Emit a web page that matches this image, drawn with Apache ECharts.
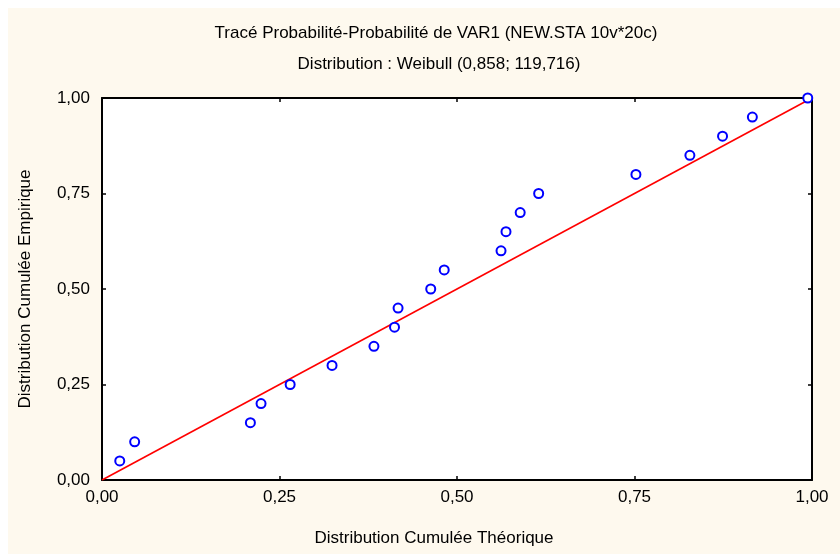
<!DOCTYPE html>
<html>
<head>
<meta charset="utf-8">
<script src="https://cdn.jsdelivr.net/npm/echarts@6/dist/echarts.min.js"></script>
<style>
  html, body { margin: 0; padding: 0; background: #ffffff; }
  #chart { width: 840px; height: 554px; }
</style>
</head>
<body>
<div id="chart"></div>
<script>
// Theoretical cumulative probability (Weibull fit) for each sorted observation
const theoretical = [0.025, 0.046, 0.209, 0.224, 0.265, 0.324, 0.383, 0.412, 0.417, 0.463,
                     0.482, 0.562, 0.569, 0.589, 0.615, 0.752, 0.828, 0.874, 0.916, 0.994];
// Empirical cumulative probability of the same observations
const empirical = [0.05, 0.10, 0.15, 0.20, 0.25, 0.30, 0.35, 0.40, 0.45, 0.50,
                   0.55, 0.60, 0.65, 0.70, 0.75, 0.80, 0.85, 0.90, 0.95, 1.00];
// Reference line (perfect fit)
const refLine = [[0, 0], [1, 1]];

const titleText = 'Tracé Probabilité-Probabilité de VAR1 (NEW.STA 10v*20c)';
const subtitleText = 'Distribution : Weibull (0,858; 119,716)';
const xName = 'Distribution Cumulée Théorique';
const yName = 'Distribution Cumulée Empirique';

const FONT = 'Liberation Sans, Arial, sans-serif';
const FS = 17;
const fmt = v => v.toFixed(2).replace('.', ',');

const points = theoretical.map((x, i) => [x, empirical[i]]);

const baseAxis = {
  type: 'value',
  min: 0,
  max: 1,
  interval: 0.25,
  axisLine: { show: true, onZero: false, lineStyle: { color: '#000', width: 2 } },
  axisTick: { show: true, inside: true, length: 4, lineStyle: { color: '#000', width: 1.5 } },
  splitLine: { show: false },
  axisLabel: { color: '#000', fontFamily: FONT, fontSize: FS, formatter: fmt }
};

const chart = echarts.init(document.getElementById('chart'), null, { renderer: 'canvas' });
chart.setOption({
  backgroundColor: '#ffffff',
  animation: false,
  graphic: [{
    type: 'rect', z: -10, silent: true,
    shape: { x: 8, y: 8, width: 832, height: 546 },
    style: { fill: '#FEF9EE' }
  }],
  title: [
    { text: titleText, left: 431, top: 20, textAlign: 'center',
      textStyle: { fontFamily: FONT, fontSize: FS, fontWeight: 'normal', color: '#000' } },
    { text: subtitleText, left: 434, top: 51, textAlign: 'center',
      textStyle: { fontFamily: FONT, fontSize: FS, fontWeight: 'normal', color: '#000' } }
  ],
  grid: { left: 102, right: 28, top: 98, bottom: 74, show: true, backgroundColor: '#ffffff', borderWidth: 0 },
  xAxis: [
    Object.assign({}, baseAxis, {
      position: 'bottom',
      name: xName, nameLocation: 'middle', nameGap: 50,
      nameTextStyle: { fontFamily: FONT, fontSize: FS, color: '#000', padding: [0, 46, 0, 0] },
      axisLabel: Object.assign({}, baseAxis.axisLabel, { margin: 9 })
    }),
    Object.assign({}, baseAxis, { position: 'top', axisLabel: { show: false } })
  ],
  yAxis: [
    Object.assign({}, baseAxis, {
      position: 'left',
      name: yName, nameLocation: 'middle', nameGap: 68,
      nameTextStyle: { fontFamily: FONT, fontSize: FS, color: '#000' },
      axisLabel: Object.assign({}, baseAxis.axisLabel, { margin: 12 })
    }),
    Object.assign({}, baseAxis, { position: 'right', axisLabel: { show: false } })
  ],
  series: [
    {
      type: 'line', data: refLine, symbol: 'none', z: 2,
      lineStyle: { color: '#ff0000', width: 1.6 }
    },
    {
      type: 'scatter', data: points, symbol: 'circle', symbolSize: 9, z: 3,
      itemStyle: { color: '#ffffff', borderColor: '#0000ff', borderWidth: 2, opacity: 1 }
    }
  ]
});
</script>
</body>
</html>
